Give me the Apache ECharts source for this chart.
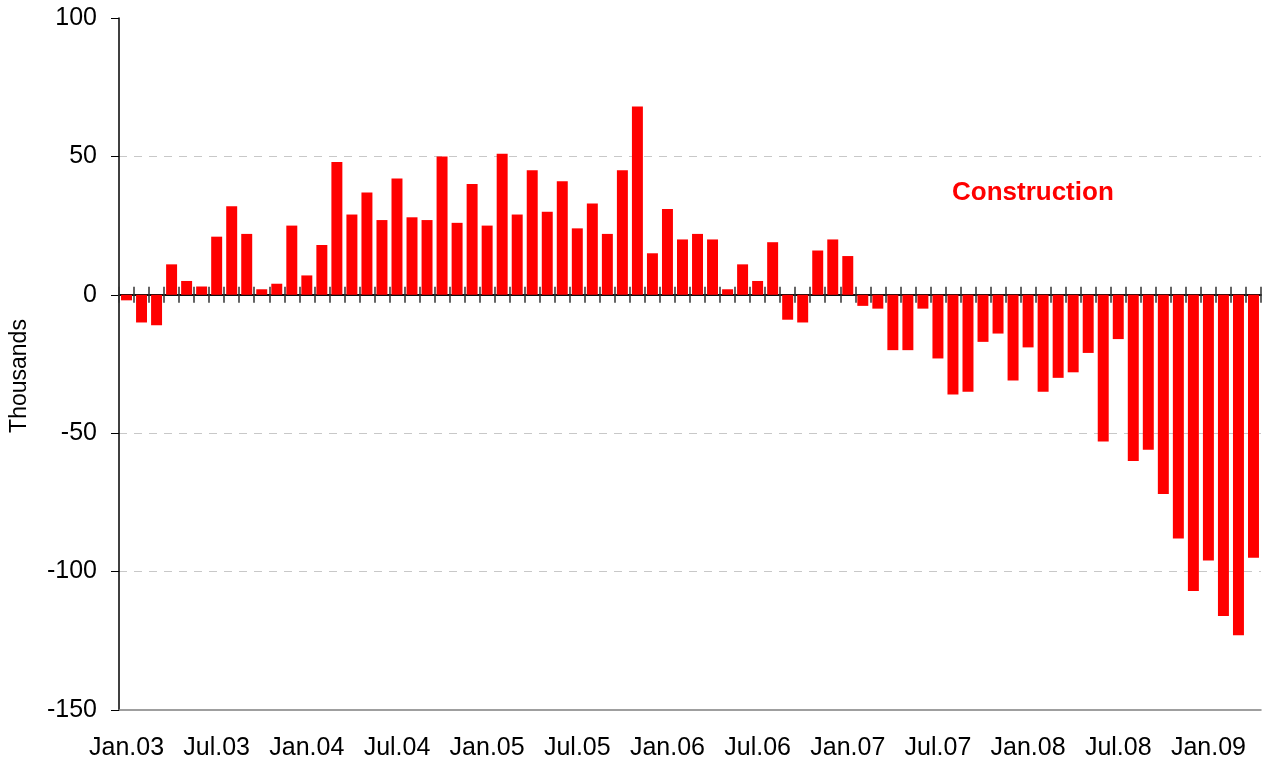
<!DOCTYPE html>
<html>
<head>
<meta charset="utf-8">
<script src="https://cdn.jsdelivr.net/npm/echarts@6/dist/echarts.min.js"></script>
<style>
html,body{margin:0;padding:0;background:#fff;}
#chart{width:1262px;height:761px;}
</style>
</head>
<body>
<div id="chart"></div>
<script>
var categories = [
 "Jan.03","Feb.03","Mar.03","Apr.03","May.03","Jun.03","Jul.03","Aug.03","Sep.03","Oct.03","Nov.03","Dec.03",
 "Jan.04","Feb.04","Mar.04","Apr.04","May.04","Jun.04","Jul.04","Aug.04","Sep.04","Oct.04","Nov.04","Dec.04",
 "Jan.05","Feb.05","Mar.05","Apr.05","May.05","Jun.05","Jul.05","Aug.05","Sep.05","Oct.05","Nov.05","Dec.05",
 "Jan.06","Feb.06","Mar.06","Apr.06","May.06","Jun.06","Jul.06","Aug.06","Sep.06","Oct.06","Nov.06","Dec.06",
 "Jan.07","Feb.07","Mar.07","Apr.07","May.07","Jun.07","Jul.07","Aug.07","Sep.07","Oct.07","Nov.07","Dec.07",
 "Jan.08","Feb.08","Mar.08","Apr.08","May.08","Jun.08","Jul.08","Aug.08","Sep.08","Oct.08","Nov.08","Dec.08",
 "Jan.09","Feb.09","Mar.09","Apr.09"
];
var construction = [
 -2, -10, -11, 11, 5, 3, 21, 32, 22, 2, 4, 25,
 7, 18, 48, 29, 37, 27, 42, 28, 27, 50, 26, 40,
 25, 51, 29, 45, 30, 41, 24, 33, 22, 45, 68, 15,
 31, 20, 22, 20, 2, 11, 5, 19, -9, -10, 16, 20,
 14, -4, -5, -20, -20, -5, -23, -36, -35, -17, -14, -31,
 -19, -35, -30, -28, -21, -53, -16, -60, -56, -72, -88, -107,
 -96, -116, -123, -95
];
var yTicks = { min: -150, max: 100, interval: 50 };
var seriesLabel = "Construction";
var yAxisTitle = "Thousands";

var FONT = "Liberation Sans, Arial, sans-serif";
var chart = echarts.init(document.getElementById('chart'));
chart.setOption({
  animation: false,
  backgroundColor: '#ffffff',
  title: {
    text: seriesLabel,
    left: 952, top: 180, padding: 0,
    textStyle: { color: '#ff0000', fontSize: 26, fontWeight: 'bold', fontFamily: FONT }
  },
  graphic: [{
    type: 'text', x: 20, y: 376, rotation: Math.PI / 2,
    style: { text: yAxisTitle, fontSize: 23, fontFamily: FONT, fill: '#000', align: 'center', verticalAlign: 'middle' }
  }],
  grid: { left: 119, right: 1, top: 18, bottom: 50, containLabel: false },
  xAxis: [
    {
      type: 'category', data: categories, position: 'bottom',
      axisLine: { onZero: false, lineStyle: { color: '#808080', width: 1.5 } },
      axisTick: { show: false },
      axisLabel: { interval: 5, fontSize: 25, color: '#000', fontFamily: FONT, margin: 26 },
      splitLine: { show: false }
    },
    {
      type: 'category', data: categories, position: 'bottom',
      axisLine: { onZero: true, onZeroAxisIndex: 0, lineStyle: { color: '#000', width: 1.5 } },
      axisTick: { show: true, interval: 0, length: 8, inside: false, lineStyle: { color: '#333', width: 1.5 } },
      axisLabel: { show: false },
      splitLine: { show: false }
    },
    {
      type: 'category', data: categories, position: 'bottom',
      axisLine: { onZero: true, onZeroAxisIndex: 0, lineStyle: { color: '#000', width: 1.5 } },
      axisTick: { show: true, interval: 0, length: 8, inside: true, lineStyle: { color: '#333', width: 1.5 } },
      axisLabel: { show: false },
      splitLine: { show: false }
    }
  ],
  yAxis: {
    type: 'value', min: yTicks.min, max: yTicks.max, interval: yTicks.interval,
    axisLine: { show: true, lineStyle: { color: '#000', width: 1.5 } },
    axisTick: { show: true, length: 8, lineStyle: { color: '#000', width: 1 } },
    axisLabel: { fontSize: 25, color: '#000', fontFamily: FONT, margin: 22 },
    splitLine: {
      show: true,
      lineStyle: {
        color: ['transparent', '#c8c8c8', '#c8c8c8', 'transparent', '#c8c8c8', 'transparent'],
        type: [8, 7], width: 1
      }
    }
  },
  series: [{
    type: 'bar', name: seriesLabel, data: construction, xAxisIndex: 0,
    barCategoryGap: '27%',
    itemStyle: { color: '#ff0000' },
    z: 1
  }]
});
</script>
</body>
</html>
